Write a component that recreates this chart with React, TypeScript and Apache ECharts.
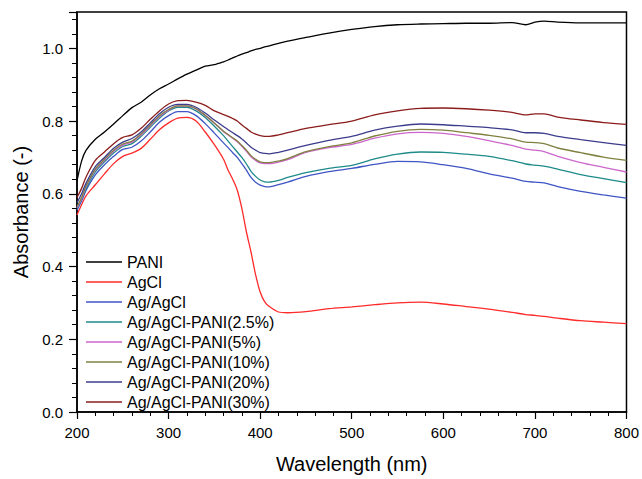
import React, { useEffect, useRef } from "react";
import * as echarts from "echarts";

const wavelengths = [200, 205, 210, 220, 230, 240, 250, 260, 270, 280, 290, 300, 310, 320, 330, 340, 350, 360, 365, 370, 375, 380, 385, 390, 395, 400, 405, 410, 420, 430, 450, 475, 500, 525, 550, 575, 600, 625, 650, 675, 690, 700, 710, 725, 750, 775, 800];

const pani = [0.635, 0.69, 0.72, 0.75, 0.77, 0.792, 0.815, 0.837, 0.852, 0.872, 0.889, 0.902, 0.916, 0.929, 0.94, 0.951, 0.955, 0.963, 0.968, 0.974, 0.979, 0.984, 0.988, 0.993, 0.997, 1.0, 1.004, 1.007, 1.014, 1.02, 1.03, 1.042, 1.052, 1.06, 1.065, 1.067, 1.068, 1.069, 1.069, 1.071, 1.065, 1.072, 1.075, 1.072, 1.07, 1.07, 1.07];

const agcl = [0.542, 0.57, 0.595, 0.625, 0.655, 0.683, 0.703, 0.712, 0.725, 0.75, 0.776, 0.795, 0.808, 0.81, 0.8, 0.77, 0.735, 0.695, 0.665, 0.64, 0.61, 0.56, 0.495, 0.44, 0.378, 0.33, 0.303, 0.29, 0.275, 0.273, 0.276, 0.284, 0.289, 0.295, 0.3, 0.302, 0.297, 0.29, 0.283, 0.274, 0.268, 0.266, 0.263, 0.258, 0.251, 0.247, 0.243];

const agAgcl = [0.555, 0.58, 0.61, 0.652, 0.68, 0.703, 0.722, 0.728, 0.745, 0.77, 0.797, 0.815, 0.826, 0.826, 0.815, 0.793, 0.767, 0.74, 0.727, 0.713, 0.7, 0.683, 0.665, 0.645, 0.632, 0.624, 0.62, 0.619, 0.625, 0.632, 0.648, 0.661, 0.67, 0.681, 0.689, 0.688, 0.68, 0.67, 0.655, 0.643, 0.634, 0.632, 0.63, 0.62, 0.607, 0.597, 0.588];

const pani25 = [0.56, 0.585, 0.615, 0.66, 0.688, 0.712, 0.73, 0.738, 0.758, 0.783, 0.808, 0.828, 0.838, 0.838, 0.828, 0.81, 0.786, 0.76, 0.745, 0.73, 0.715, 0.7, 0.682, 0.662, 0.648, 0.638, 0.633, 0.632, 0.637, 0.645, 0.658, 0.67, 0.678, 0.696, 0.709, 0.715, 0.714, 0.709, 0.703, 0.691, 0.682, 0.679, 0.676, 0.668, 0.653, 0.642, 0.631];

const pani5 = [0.562, 0.587, 0.62, 0.665, 0.692, 0.717, 0.734, 0.742, 0.762, 0.787, 0.812, 0.83, 0.841, 0.841, 0.833, 0.815, 0.794, 0.771, 0.762, 0.753, 0.743, 0.731, 0.717, 0.702, 0.692, 0.685, 0.683, 0.683, 0.687, 0.694, 0.714, 0.727, 0.736, 0.753, 0.765, 0.769, 0.766, 0.758, 0.746, 0.733, 0.723, 0.72, 0.716, 0.703, 0.686, 0.673, 0.66];

const pani10 = [0.565, 0.59, 0.622, 0.668, 0.695, 0.72, 0.737, 0.745, 0.765, 0.79, 0.815, 0.832, 0.842, 0.842, 0.834, 0.816, 0.795, 0.772, 0.763, 0.754, 0.745, 0.733, 0.72, 0.705, 0.695, 0.688, 0.686, 0.686, 0.69, 0.697, 0.716, 0.73, 0.74, 0.759, 0.772, 0.777, 0.775, 0.768, 0.761, 0.751, 0.742, 0.741, 0.738, 0.726, 0.713, 0.701, 0.692];

const pani20 = [0.575, 0.6, 0.63, 0.675, 0.7, 0.725, 0.742, 0.752, 0.77, 0.795, 0.82, 0.838, 0.846, 0.846, 0.838, 0.822, 0.803, 0.785, 0.776, 0.768, 0.76, 0.751, 0.74, 0.728, 0.72, 0.713, 0.711, 0.71, 0.714, 0.72, 0.733, 0.747, 0.758, 0.775, 0.786, 0.792, 0.79, 0.786, 0.782, 0.776, 0.768, 0.768, 0.766, 0.758, 0.749, 0.741, 0.733];

const pani30 = [0.59, 0.615, 0.647, 0.692, 0.715, 0.738, 0.755, 0.762, 0.78, 0.805, 0.828, 0.847, 0.856, 0.857, 0.852, 0.843, 0.828, 0.818, 0.813, 0.807, 0.8, 0.789, 0.78, 0.77, 0.764, 0.76, 0.758, 0.758, 0.762, 0.768, 0.78, 0.79, 0.8, 0.817, 0.828, 0.835, 0.836, 0.834, 0.83, 0.824, 0.817, 0.82, 0.82, 0.811, 0.803, 0.796, 0.791];

const seriesNames = ["PANI", "AgCl", "Ag/AgCl", "Ag/AgCl-PANI(2.5%)", "Ag/AgCl-PANI(5%)", "Ag/AgCl-PANI(10%)", "Ag/AgCl-PANI(20%)", "Ag/AgCl-PANI(30%)"];
const seriesValues = [pani, agcl, agAgcl, pani25, pani5, pani10, pani20, pani30];
const seriesColors = ["#000000", "#ff2a2a", "#3f55c4", "#1e8a8a", "#cc66cc", "#808040", "#3c3c8c", "#8b1c1c"];

const FONT = "'Liberation Sans', Arial, sans-serif";

export default function App() {
  const ref = useRef<HTMLDivElement>(null);
  useEffect(() => {
    if (!ref.current) return;
    const chart = echarts.init(ref.current, null, { renderer: "svg" });
    chart.setOption({
      animation: false,
      backgroundColor: "#ffffff",
      textStyle: { fontFamily: FONT },
      grid: {
        left: 77,
        right: 15,
        top: 12,
        bottom: 60,
        show: true,
        borderColor: "#000",
        borderWidth: 1.5,
        containLabel: false,
      },
      legend: {
        orient: "vertical",
        left: 86,
        top: 254,
        padding: 0,
        icon: "rect",
        itemWidth: 36,
        itemHeight: 1.5,
        itemGap: 4,
        textStyle: { fontSize: 16, color: "#000", fontFamily: FONT, lineHeight: 16 },
        data: seriesNames,
      },
      xAxis: {
        type: "value",
        min: 200,
        max: 800,
        interval: 100,
        name: "Wavelength (nm)",
        nameLocation: "middle",
        nameGap: 42,
        nameTextStyle: { fontSize: 20, color: "#000", fontFamily: FONT },
        axisLine: { lineStyle: { color: "#000", width: 1.5 } },
        axisTick: { show: true, length: 7, lineStyle: { color: "#000", width: 1.2 } },
        minorTick: { show: true, splitNumber: 5, length: 4, lineStyle: { color: "#000", width: 1 } },
        splitLine: { show: false },
        axisLabel: { fontSize: 15, color: "#000", margin: 13, fontFamily: FONT },
      },
      yAxis: {
        type: "value",
        min: 0,
        max: 1.1,
        interval: 0.2,
        name: "Absorbance (-)",
        nameLocation: "middle",
        nameGap: 40,
        nameTextStyle: { fontSize: 20, color: "#000", fontFamily: FONT },
        axisLine: { show: true, lineStyle: { color: "#000", width: 1.5 } },
        axisTick: { show: true, length: 8, lineStyle: { color: "#000", width: 1.2 } },
        minorTick: { show: true, splitNumber: 5, length: 5, lineStyle: { color: "#000", width: 1 } },
        splitLine: { show: false },
        axisLabel: {
          fontSize: 15,
          color: "#000",
          margin: 14,
          fontFamily: FONT,
          showMaxLabel: false,
          formatter: (v: number) => v.toFixed(1),
        },
      },
      series: seriesNames.map((name, i) => ({
        name,
        type: "line",
        symbol: "none",
        smooth: 0.3,
        color: seriesColors[i],
        lineStyle: { width: 1.3, color: seriesColors[i] },
        data: wavelengths.map((w, j) => [w, seriesValues[i][j]]),
      })),
    });
    return () => chart.dispose();
  }, []);
  return (
    <div
      ref={ref}
      style={{ position: "absolute", left: 0, top: 0, width: 642, height: 479 }}
    />
  );
}
